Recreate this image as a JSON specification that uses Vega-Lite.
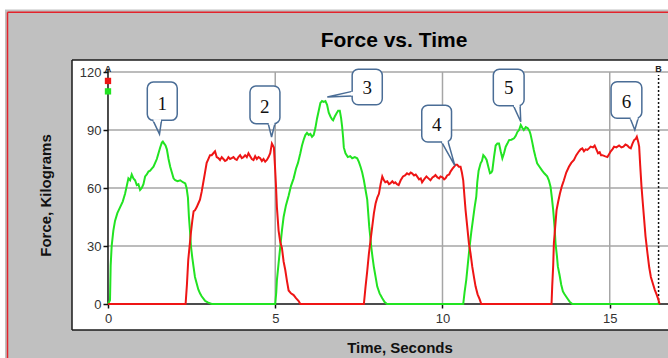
{
  "$schema": "https://vega.github.io/schema/vega-lite/v6.json",
  "width": 596,
  "height": 270,
  "autosize": {"type": "none"},
  "padding": {"left": 72, "top": 60, "right": 0, "bottom": 28},
  "background": "#c0c0c0",
  "config": {"view": {"stroke": null, "fill": "white"}, "font": "Liberation Sans"},
  "datasets": {
    "force": [
      {"s":"g","t":0,"v":0},{"s":"g","t":0.06,"v":2},{"s":"g","t":0.08,"v":20},{"s":"g","t":0.11,"v":30},{"s":"g","t":0.16,"v":38},{"s":"g","t":0.21,"v":43},{"s":"g","t":0.28,"v":47},{"s":"g","t":0.36,"v":50},{"s":"g","t":0.44,"v":53},{"s":"g","t":0.51,"v":57},{"s":"g","t":0.56,"v":61},{"s":"g","t":0.61,"v":65},{"s":"g","t":0.66,"v":64},{"s":"g","t":0.71,"v":67},{"s":"g","t":0.76,"v":65},{"s":"g","t":0.81,"v":64},{"s":"g","t":0.86,"v":61.5},{"s":"g","t":0.91,"v":62},{"s":"g","t":0.96,"v":59},{"s":"g","t":1.01,"v":60},{"s":"g","t":1.06,"v":62},{"s":"g","t":1.11,"v":66},{"s":"g","t":1.16,"v":67},{"s":"g","t":1.21,"v":68.5},{"s":"g","t":1.26,"v":69},{"s":"g","t":1.31,"v":70},{"s":"g","t":1.36,"v":71},{"s":"g","t":1.41,"v":73},{"s":"g","t":1.46,"v":75},{"s":"g","t":1.51,"v":78},{"s":"g","t":1.56,"v":81},{"s":"g","t":1.61,"v":83.5},{"s":"g","t":1.64,"v":84},{"s":"g","t":1.68,"v":83},{"s":"g","t":1.72,"v":82},{"s":"g","t":1.76,"v":80},{"s":"g","t":1.81,"v":75},{"s":"g","t":1.86,"v":71},{"s":"g","t":1.91,"v":68},{"s":"g","t":1.96,"v":65},{"s":"g","t":2.01,"v":64},{"s":"g","t":2.08,"v":63.5},{"s":"g","t":2.16,"v":64},{"s":"g","t":2.24,"v":63},{"s":"g","t":2.31,"v":62.4},{"s":"g","t":2.35,"v":60},{"s":"g","t":2.39,"v":55},{"s":"g","t":2.42,"v":45},{"s":"g","t":2.45,"v":38},{"s":"g","t":2.48,"v":30},{"s":"g","t":2.52,"v":24},{"s":"g","t":2.56,"v":19},{"s":"g","t":2.6,"v":14},{"s":"g","t":2.65,"v":10.7},{"s":"g","t":2.7,"v":7.5},{"s":"g","t":2.75,"v":5.5},{"s":"g","t":2.8,"v":4},{"s":"g","t":2.9,"v":1.7},{"s":"g","t":2.98,"v":0.8},{"s":"g","t":3.1,"v":0},{"s":"g","t":5.0,"v":0},{"s":"g","t":5.03,"v":6},{"s":"g","t":5.05,"v":12.4},{"s":"g","t":5.1,"v":21},{"s":"g","t":5.15,"v":29.6},{"s":"g","t":5.2,"v":38},{"s":"g","t":5.25,"v":45},{"s":"g","t":5.32,"v":51},{"s":"g","t":5.4,"v":56},{"s":"g","t":5.47,"v":61},{"s":"g","t":5.55,"v":65},{"s":"g","t":5.62,"v":70},{"s":"g","t":5.68,"v":73},{"s":"g","t":5.75,"v":78},{"s":"g","t":5.8,"v":82},{"s":"g","t":5.85,"v":85},{"s":"g","t":5.9,"v":87.4},{"s":"g","t":5.95,"v":88.5},{"s":"g","t":6.0,"v":87.5},{"s":"g","t":6.05,"v":88},{"s":"g","t":6.1,"v":86.5},{"s":"g","t":6.15,"v":87.4},{"s":"g","t":6.2,"v":91},{"s":"g","t":6.25,"v":96},{"s":"g","t":6.3,"v":100},{"s":"g","t":6.35,"v":104},{"s":"g","t":6.4,"v":105},{"s":"g","t":6.45,"v":104.6},{"s":"g","t":6.5,"v":105},{"s":"g","t":6.55,"v":103},{"s":"g","t":6.6,"v":99},{"s":"g","t":6.65,"v":97},{"s":"g","t":6.7,"v":95.5},{"s":"g","t":6.73,"v":95},{"s":"g","t":6.78,"v":97},{"s":"g","t":6.83,"v":98.6},{"s":"g","t":6.88,"v":100},{"s":"g","t":6.93,"v":100},{"s":"g","t":6.97,"v":96},{"s":"g","t":7.0,"v":91.7},{"s":"g","t":7.03,"v":86},{"s":"g","t":7.05,"v":81},{"s":"g","t":7.1,"v":78},{"s":"g","t":7.17,"v":76},{"s":"g","t":7.24,"v":76.5},{"s":"g","t":7.3,"v":75.4},{"s":"g","t":7.38,"v":76},{"s":"g","t":7.45,"v":75.4},{"s":"g","t":7.5,"v":73.5},{"s":"g","t":7.55,"v":71},{"s":"g","t":7.6,"v":68},{"s":"g","t":7.65,"v":64},{"s":"g","t":7.7,"v":59},{"s":"g","t":7.75,"v":54},{"s":"g","t":7.78,"v":47},{"s":"g","t":7.81,"v":40},{"s":"g","t":7.84,"v":35},{"s":"g","t":7.87,"v":29.6},{"s":"g","t":7.91,"v":24},{"s":"g","t":7.95,"v":19},{"s":"g","t":8.0,"v":14},{"s":"g","t":8.05,"v":9},{"s":"g","t":8.12,"v":5.5},{"s":"g","t":8.2,"v":3},{"s":"g","t":8.27,"v":1},{"s":"g","t":8.34,"v":0},{"s":"g","t":10.62,"v":0},{"s":"g","t":10.66,"v":6},{"s":"g","t":10.71,"v":12.4},{"s":"g","t":10.76,"v":21},{"s":"g","t":10.81,"v":29.6},{"s":"g","t":10.86,"v":37},{"s":"g","t":10.91,"v":43.5},{"s":"g","t":10.96,"v":50},{"s":"g","t":11.01,"v":55.5},{"s":"g","t":11.04,"v":63},{"s":"g","t":11.08,"v":69},{"s":"g","t":11.14,"v":72.8},{"s":"g","t":11.18,"v":74},{"s":"g","t":11.22,"v":77},{"s":"g","t":11.27,"v":76},{"s":"g","t":11.32,"v":74.5},{"s":"g","t":11.37,"v":71},{"s":"g","t":11.42,"v":67.6},{"s":"g","t":11.46,"v":68},{"s":"g","t":11.49,"v":69},{"s":"g","t":11.54,"v":76},{"s":"g","t":11.59,"v":82},{"s":"g","t":11.64,"v":83},{"s":"g","t":11.69,"v":83},{"s":"g","t":11.74,"v":79},{"s":"g","t":11.79,"v":75.4},{"s":"g","t":11.84,"v":78},{"s":"g","t":11.89,"v":81.4},{"s":"g","t":11.94,"v":83},{"s":"g","t":11.99,"v":84.8},{"s":"g","t":12.06,"v":85},{"s":"g","t":12.14,"v":85.7},{"s":"g","t":12.19,"v":87},{"s":"g","t":12.24,"v":89},{"s":"g","t":12.29,"v":90},{"s":"g","t":12.34,"v":92.6},{"s":"g","t":12.39,"v":91},{"s":"g","t":12.43,"v":90},{"s":"g","t":12.49,"v":91.5},{"s":"g","t":12.55,"v":90.9},{"s":"g","t":12.6,"v":89.5},{"s":"g","t":12.63,"v":88},{"s":"g","t":12.68,"v":84},{"s":"g","t":12.73,"v":79.7},{"s":"g","t":12.78,"v":76},{"s":"g","t":12.83,"v":72.8},{"s":"g","t":12.9,"v":71},{"s":"g","t":12.98,"v":69},{"s":"g","t":13.05,"v":67.5},{"s":"g","t":13.13,"v":66},{"s":"g","t":13.18,"v":64},{"s":"g","t":13.23,"v":60.7},{"s":"g","t":13.27,"v":55},{"s":"g","t":13.31,"v":48.6},{"s":"g","t":13.35,"v":40},{"s":"g","t":13.38,"v":31.4},{"s":"g","t":13.42,"v":25},{"s":"g","t":13.45,"v":19.3},{"s":"g","t":13.5,"v":15},{"s":"g","t":13.55,"v":10},{"s":"g","t":13.6,"v":6.5},{"s":"g","t":13.65,"v":5},{"s":"g","t":13.73,"v":3},{"s":"g","t":13.8,"v":1.2},{"s":"g","t":13.88,"v":0},{"s":"g","t":16.48,"v":0},
      {"s":"r","t":0,"v":0},{"s":"r","t":2.32,"v":0},{"s":"r","t":2.36,"v":10},{"s":"r","t":2.4,"v":23},{"s":"r","t":2.44,"v":30},{"s":"r","t":2.48,"v":37},{"s":"r","t":2.52,"v":43},{"s":"r","t":2.56,"v":48},{"s":"r","t":2.6,"v":48.5},{"s":"r","t":2.65,"v":50},{"s":"r","t":2.7,"v":52},{"s":"r","t":2.75,"v":54},{"s":"r","t":2.8,"v":58},{"s":"r","t":2.85,"v":63},{"s":"r","t":2.9,"v":68},{"s":"r","t":2.95,"v":73},{"s":"r","t":3.0,"v":75},{"s":"r","t":3.05,"v":77},{"s":"r","t":3.1,"v":77},{"s":"r","t":3.15,"v":78},{"s":"r","t":3.2,"v":79},{"s":"r","t":3.25,"v":76},{"s":"r","t":3.3,"v":75.5},{"s":"r","t":3.35,"v":74.5},{"s":"r","t":3.4,"v":76},{"s":"r","t":3.45,"v":75},{"s":"r","t":3.5,"v":74},{"s":"r","t":3.55,"v":74.5},{"s":"r","t":3.6,"v":76},{"s":"r","t":3.65,"v":75},{"s":"r","t":3.7,"v":75.5},{"s":"r","t":3.75,"v":76},{"s":"r","t":3.8,"v":75},{"s":"r","t":3.85,"v":74.5},{"s":"r","t":3.9,"v":76},{"s":"r","t":3.95,"v":77},{"s":"r","t":4.0,"v":75.5},{"s":"r","t":4.05,"v":76},{"s":"r","t":4.1,"v":77},{"s":"r","t":4.15,"v":76},{"s":"r","t":4.2,"v":78},{"s":"r","t":4.25,"v":76.5},{"s":"r","t":4.3,"v":75},{"s":"r","t":4.35,"v":74.5},{"s":"r","t":4.4,"v":76.5},{"s":"r","t":4.45,"v":75},{"s":"r","t":4.5,"v":76},{"s":"r","t":4.55,"v":75.4},{"s":"r","t":4.6,"v":74},{"s":"r","t":4.65,"v":75},{"s":"r","t":4.7,"v":73.6},{"s":"r","t":4.75,"v":74.5},{"s":"r","t":4.8,"v":76},{"s":"r","t":4.85,"v":78},{"s":"r","t":4.9,"v":83},{"s":"r","t":4.93,"v":82},{"s":"r","t":4.96,"v":81},{"s":"r","t":4.99,"v":72},{"s":"r","t":5.02,"v":62},{"s":"r","t":5.05,"v":50},{"s":"r","t":5.1,"v":38},{"s":"r","t":5.15,"v":32},{"s":"r","t":5.2,"v":29},{"s":"r","t":5.25,"v":22},{"s":"r","t":5.3,"v":17.6},{"s":"r","t":5.35,"v":12},{"s":"r","t":5.4,"v":7},{"s":"r","t":5.47,"v":5.5},{"s":"r","t":5.55,"v":4.6},{"s":"r","t":5.62,"v":3},{"s":"r","t":5.7,"v":1.5},{"s":"r","t":5.75,"v":0},{"s":"r","t":7.65,"v":0},{"s":"r","t":7.7,"v":9},{"s":"r","t":7.75,"v":17},{"s":"r","t":7.8,"v":26},{"s":"r","t":7.85,"v":33},{"s":"r","t":7.9,"v":40},{"s":"r","t":7.95,"v":47},{"s":"r","t":8.0,"v":52},{"s":"r","t":8.05,"v":55},{"s":"r","t":8.1,"v":57},{"s":"r","t":8.15,"v":62},{"s":"r","t":8.2,"v":66},{"s":"r","t":8.25,"v":64},{"s":"r","t":8.29,"v":63},{"s":"r","t":8.35,"v":63.5},{"s":"r","t":8.4,"v":62},{"s":"r","t":8.44,"v":62.4},{"s":"r","t":8.5,"v":63.5},{"s":"r","t":8.55,"v":62.5},{"s":"r","t":8.59,"v":63},{"s":"r","t":8.64,"v":62},{"s":"r","t":8.69,"v":61.5},{"s":"r","t":8.75,"v":64},{"s":"r","t":8.82,"v":66},{"s":"r","t":8.88,"v":66.5},{"s":"r","t":8.94,"v":67.6},{"s":"r","t":9.0,"v":67},{"s":"r","t":9.05,"v":68},{"s":"r","t":9.09,"v":67.6},{"s":"r","t":9.15,"v":66.5},{"s":"r","t":9.2,"v":67},{"s":"r","t":9.24,"v":66},{"s":"r","t":9.3,"v":64.5},{"s":"r","t":9.35,"v":65},{"s":"r","t":9.39,"v":63},{"s":"r","t":9.45,"v":64.5},{"s":"r","t":9.52,"v":66},{"s":"r","t":9.58,"v":65},{"s":"r","t":9.64,"v":64},{"s":"r","t":9.7,"v":65.5},{"s":"r","t":9.75,"v":66},{"s":"r","t":9.79,"v":66.7},{"s":"r","t":9.85,"v":65.5},{"s":"r","t":9.9,"v":65},{"s":"r","t":9.94,"v":66},{"s":"r","t":10.0,"v":65.5},{"s":"r","t":10.05,"v":64.5},{"s":"r","t":10.09,"v":65},{"s":"r","t":10.14,"v":66.5},{"s":"r","t":10.2,"v":67},{"s":"r","t":10.24,"v":68.5},{"s":"r","t":10.3,"v":70},{"s":"r","t":10.35,"v":71},{"s":"r","t":10.39,"v":72},{"s":"r","t":10.44,"v":72},{"s":"r","t":10.49,"v":71},{"s":"r","t":10.54,"v":71},{"s":"r","t":10.58,"v":68},{"s":"r","t":10.62,"v":64},{"s":"r","t":10.66,"v":55},{"s":"r","t":10.69,"v":48.6},{"s":"r","t":10.74,"v":40},{"s":"r","t":10.79,"v":31.4},{"s":"r","t":10.84,"v":26},{"s":"r","t":10.89,"v":19.3},{"s":"r","t":10.94,"v":14},{"s":"r","t":10.99,"v":9},{"s":"r","t":11.05,"v":5},{"s":"r","t":11.11,"v":2.5},{"s":"r","t":11.16,"v":0},{"s":"r","t":13.26,"v":0},{"s":"r","t":13.28,"v":9},{"s":"r","t":13.31,"v":20},{"s":"r","t":13.33,"v":31.4},{"s":"r","t":13.37,"v":40},{"s":"r","t":13.41,"v":48.6},{"s":"r","t":13.46,"v":53},{"s":"r","t":13.51,"v":57},{"s":"r","t":13.57,"v":61},{"s":"r","t":13.63,"v":64},{"s":"r","t":13.7,"v":68},{"s":"r","t":13.78,"v":71},{"s":"r","t":13.85,"v":73},{"s":"r","t":13.93,"v":74.5},{"s":"r","t":14.0,"v":77},{"s":"r","t":14.08,"v":79},{"s":"r","t":14.13,"v":80},{"s":"r","t":14.18,"v":80.5},{"s":"r","t":14.23,"v":79},{"s":"r","t":14.28,"v":80},{"s":"r","t":14.33,"v":79.7},{"s":"r","t":14.38,"v":80.5},{"s":"r","t":14.43,"v":81.4},{"s":"r","t":14.5,"v":81},{"s":"r","t":14.55,"v":82},{"s":"r","t":14.6,"v":80},{"s":"r","t":14.65,"v":78},{"s":"r","t":14.7,"v":78.5},{"s":"r","t":14.74,"v":77},{"s":"r","t":14.78,"v":77},{"s":"r","t":14.85,"v":76.5},{"s":"r","t":14.93,"v":76},{"s":"r","t":14.98,"v":77.5},{"s":"r","t":15.03,"v":79},{"s":"r","t":15.08,"v":80},{"s":"r","t":15.13,"v":81.4},{"s":"r","t":15.2,"v":81},{"s":"r","t":15.28,"v":82},{"s":"r","t":15.35,"v":81},{"s":"r","t":15.41,"v":81.4},{"s":"r","t":15.47,"v":82.5},{"s":"r","t":15.53,"v":82},{"s":"r","t":15.58,"v":81},{"s":"r","t":15.63,"v":80.5},{"s":"r","t":15.68,"v":83},{"s":"r","t":15.73,"v":84.8},{"s":"r","t":15.78,"v":85.5},{"s":"r","t":15.81,"v":86.5},{"s":"r","t":15.85,"v":84},{"s":"r","t":15.88,"v":81.4},{"s":"r","t":15.91,"v":72},{"s":"r","t":15.95,"v":60.7},{"s":"r","t":15.99,"v":52},{"s":"r","t":16.03,"v":43.5},{"s":"r","t":16.07,"v":35},{"s":"r","t":16.13,"v":26},{"s":"r","t":16.18,"v":19},{"s":"r","t":16.23,"v":14},{"s":"r","t":16.3,"v":10},{"s":"r","t":16.35,"v":7.2},{"s":"r","t":16.4,"v":5},{"s":"r","t":16.45,"v":2.5},{"s":"r","t":16.49,"v":0}
    ],
    "strips": [
      {"t0":-4,"t1":18,"v0":152.35,"v1":160},
      {"t0":-4,"t1":-3.079,"v0":-40,"v1":160}
    ],
    "borders": [
      {"c":"red","t0":-3.004,"t1":-3.004,"v0":-40,"v1":150.9},
      {"c":"red","t0":-3.004,"t1":18,"v0":150.9,"v1":150.9},
      {"c":"black","t0":-1.076,"t1":-1.076,"v0":-13.45,"v1":126.23},
      {"c":"black","t0":-1.076,"t1":18,"v0":126.23,"v1":126.23},
      {"c":"black","t0":-1.076,"t1":18,"v0":-13.45,"v1":-13.45}
    ],
    "titles": [{"lab":"Force vs. Time","t":8.55,"v":133.1}],
    "hgrid": [{"v":30,"t0":0,"t1":16.75},{"v":60,"t0":0,"t1":16.75},{"v":90,"t0":0,"t1":16.75},{"v":120,"t0":0,"t1":16.75}],
    "vgrid": [{"t":5,"v0":0,"v1":120},{"t":10,"v0":0,"v1":120},{"t":15,"v0":0,"v1":120}],
    "axisrules": [{"t0":0,"t1":16.75,"v0":0,"v1":0},{"t0":0,"t1":0,"v0":0,"v1":121}],
    "cursorline": [{"t0":16.46,"t1":16.46,"v0":0,"v1":118.5}],
    "cursormarks": [{"s":"r","t":0,"v":115.4},{"s":"g","t":0,"v":110}],
    "cursorlabels": [{"lab":"A","t":0,"v":121.8},{"lab":"B","t":16.46,"v":121.8}],
    "tails": [
      {"id":1,"o":0,"t":1.345,"v":95.0},{"id":1,"o":1,"t":1.54,"v":87.9},{"id":1,"o":2,"t":1.6,"v":95.0},
      {"id":2,"o":0,"t":4.79,"v":93.3},{"id":2,"o":1,"t":4.89,"v":86.4},{"id":2,"o":2,"t":4.99,"v":93.3},
      {"id":3,"o":0,"t":7.3,"v":110.0},{"id":3,"o":1,"t":6.556,"v":107.1},{"id":3,"o":2,"t":7.3,"v":107.6},
      {"id":4,"o":0,"t":9.975,"v":83.8},{"id":4,"o":1,"t":10.37,"v":71.6},{"id":4,"o":2,"t":10.17,"v":83.8},
      {"id":5,"o":0,"t":12.12,"v":102.6},{"id":5,"o":1,"t":12.34,"v":94.3},{"id":5,"o":2,"t":12.32,"v":102.6},
      {"id":6,"o":0,"t":15.61,"v":96.1},{"id":6,"o":1,"t":15.75,"v":90.0},{"id":6,"o":2,"t":15.85,"v":96.1}
    ],
    "boxes": [
      {"lab":"1","t0":1.175,"t1":2.07,"v0":95.0,"v1":114.8,"tc":1.62,"vc":103.5},
      {"lab":"2","t0":4.245,"t1":5.14,"v0":93.3,"v1":112.8,"tc":4.69,"vc":102},
      {"lab":"3","t0":7.3,"t1":8.2,"v0":103.1,"v1":121.4,"tc":7.75,"vc":111.5},
      {"lab":"4","t0":9.38,"t1":10.27,"v0":83.8,"v1":102.8,"tc":9.83,"vc":92.5},
      {"lab":"5","t0":11.52,"t1":12.44,"v0":102.6,"v1":121.4,"tc":11.98,"vc":111.5},
      {"lab":"6","t0":15.04,"t1":15.96,"v0":96.1,"v1":115.0,"tc":15.5,"vc":104.5}
    ],
    "gaps": [
      {"t0":1.36,"t1":1.585,"v0":95.0,"v1":95.0},
      {"t0":4.805,"t1":4.975,"v0":93.3,"v1":93.3},
      {"t0":7.3,"t1":7.3,"v0":109.8,"v1":107.8},
      {"t0":9.99,"t1":10.155,"v0":83.8,"v1":83.8},
      {"t0":12.135,"t1":12.305,"v0":102.6,"v1":102.6},
      {"t0":15.625,"t1":15.835,"v0":96.1,"v1":96.1}
    ]
  },
  "layer": [
    {
      "data": {"name": "hgrid"},
      "mark": {"type": "rule", "clip": false, "color": "#a6a6a6", "strokeWidth": 1.5},
      "encoding": {
        "x": {"field": "t0", "type": "quantitative", "title": "Time, Seconds", "scale": {"domain": [-1.076, 16.742], "nice": false, "zero": false},
          "axis": {"values": [0, 5, 10, 15], "offset": -26, "domain": false, "grid": false, "tickColor": "#111", "tickSize": 4, "tickWidth": 1.5, "labelFontSize": 13, "labelColor": "#333", "labelPadding": 4, "labelFont": "Liberation Sans", "labelFlush": false, "labelOverlap": false, "titleFontSize": 15, "titleFontWeight": "bold", "titleFont": "Liberation Sans", "titleColor": "#111", "titlePadding": 15, "titleX": 327.5}},
        "x2": {"field": "t1"},
        "y": {"field": "v", "type": "quantitative", "title": "Force, Kilograms", "scale": {"domain": [-13.45, 126.23], "nice": false, "zero": false},
          "axis": {"values": [0, 30, 60, 90, 120], "offset": -36, "domain": false, "grid": false, "tickColor": "#111", "tickSize": 5, "tickWidth": 1.5, "labelFontSize": 13, "labelColor": "#333", "labelPadding": 2, "labelFont": "Liberation Sans", "labelFlush": false, "labelOverlap": false, "titleFontSize": 15, "titleFontWeight": "bold", "titleFont": "Liberation Sans", "titleColor": "#111", "titlePadding": 26}}
      }
    },
    {
      "data": {"name": "strips"},
      "mark": {"type": "rect", "clip": false, "fill": "white", "strokeWidth": 0},
      "encoding": {
        "x": {"field": "t0", "type": "quantitative", "title": "Time, Seconds"},
        "x2": {"field": "t1"},
        "y": {"field": "v0", "type": "quantitative", "title": "Force, Kilograms"},
        "y2": {"field": "v1"}
      }
    },
    {
      "data": {"name": "borders"},
      "mark": {"type": "rule", "clip": false, "strokeWidth": 1.5},
      "encoding": {
        "x": {"field": "t0", "type": "quantitative", "title": "Time, Seconds"},
        "x2": {"field": "t1"},
        "y": {"field": "v0", "type": "quantitative", "title": "Force, Kilograms"},
        "y2": {"field": "v1"},
        "stroke": {"field": "c", "type": "nominal", "scale": {"domain": ["red", "black"], "range": ["#e3232b", "#1a1a1a"]}, "legend": null}
      }
    },
    {
      "data": {"name": "titles"},
      "mark": {"type": "text", "clip": false, "font": "Liberation Sans", "fontSize": 21, "fontWeight": "bold", "color": "#000", "align": "center", "baseline": "alphabetic"},
      "encoding": {
        "x": {"field": "t", "type": "quantitative", "title": "Time, Seconds"},
        "y": {"field": "v", "type": "quantitative", "title": "Force, Kilograms"},
        "text": {"field": "lab"}
      }
    },
    {
      "data": {"name": "vgrid"},
      "mark": {"type": "rule", "clip": false, "color": "#a6a6a6", "strokeWidth": 1.5},
      "encoding": {
        "x": {"field": "t", "type": "quantitative", "title": "Time, Seconds"},
        "y": {"field": "v0", "type": "quantitative", "title": "Force, Kilograms"},
        "y2": {"field": "v1"}
      }
    },
    {
      "data": {"name": "axisrules"},
      "mark": {"type": "rule", "clip": false, "color": "#111111", "strokeWidth": 1.5},
      "encoding": {
        "x": {"field": "t0", "type": "quantitative", "title": "Time, Seconds"},
        "x2": {"field": "t1"},
        "y": {"field": "v0", "type": "quantitative", "title": "Force, Kilograms"},
        "y2": {"field": "v1"}
      }
    },
    {
      "data": {"name": "cursorline"},
      "mark": {"type": "rule", "clip": false, "color": "#111111", "strokeWidth": 1.5, "strokeDash": [2, 2]},
      "encoding": {
        "x": {"field": "t0", "type": "quantitative", "title": "Time, Seconds"},
        "y": {"field": "v0", "type": "quantitative", "title": "Force, Kilograms"},
        "y2": {"field": "v1"}
      }
    },
    {
      "data": {"name": "force"},
      "mark": {"type": "line", "clip": false, "strokeWidth": 2},
      "encoding": {
        "x": {"field": "t", "type": "quantitative", "title": "Time, Seconds"},
        "y": {"field": "v", "type": "quantitative", "title": "Force, Kilograms"},
        "color": {"field": "s", "type": "nominal", "scale": {"domain": ["g", "r"], "range": ["#22e322", "#ee1515"]}, "legend": null},
        "detail": {"field": "s"}
      }
    },
    {
      "data": {"name": "cursormarks"},
      "mark": {"type": "point", "shape": "square", "filled": true, "size": 40, "opacity": 1, "clip": false},
      "encoding": {
        "x": {"field": "t", "type": "quantitative", "title": "Time, Seconds"},
        "y": {"field": "v", "type": "quantitative", "title": "Force, Kilograms"},
        "color": {"field": "s", "type": "nominal", "legend": null}
      }
    },
    {
      "data": {"name": "cursorlabels"},
      "mark": {"type": "text", "clip": false, "fontSize": 9, "fontWeight": "bold", "color": "#222", "baseline": "middle", "align": "center"},
      "encoding": {
        "x": {"field": "t", "type": "quantitative", "title": "Time, Seconds"},
        "y": {"field": "v", "type": "quantitative", "title": "Force, Kilograms"},
        "text": {"field": "lab"}
      }
    },
    {
      "data": {"name": "tails"},
      "mark": {"type": "line", "clip": false, "color": "#4a6d96", "strokeWidth": 1.5},
      "encoding": {
        "x": {"field": "t", "type": "quantitative", "title": "Time, Seconds"},
        "y": {"field": "v", "type": "quantitative", "title": "Force, Kilograms"},
        "detail": {"field": "id"},
        "order": {"field": "o"}
      }
    },
    {
      "data": {"name": "boxes"},
      "mark": {"type": "rect", "clip": false, "fill": "white", "stroke": "#4a6d96", "strokeWidth": 1.5, "cornerRadius": 6},
      "encoding": {
        "x": {"field": "t0", "type": "quantitative", "title": "Time, Seconds"},
        "x2": {"field": "t1"},
        "y": {"field": "v0", "type": "quantitative", "title": "Force, Kilograms"},
        "y2": {"field": "v1"}
      }
    },
    {
      "data": {"name": "gaps"},
      "mark": {"type": "rule", "clip": false, "color": "white", "strokeWidth": 2.5},
      "encoding": {
        "x": {"field": "t0", "type": "quantitative", "title": "Time, Seconds"},
        "x2": {"field": "t1"},
        "y": {"field": "v0", "type": "quantitative", "title": "Force, Kilograms"},
        "y2": {"field": "v1"}
      }
    },
    {
      "data": {"name": "boxes"},
      "mark": {"type": "text", "clip": false, "font": "Liberation Serif", "fontSize": 19, "color": "#111", "baseline": "middle", "align": "center"},
      "encoding": {
        "x": {"field": "tc", "type": "quantitative", "title": "Time, Seconds"},
        "y": {"field": "vc", "type": "quantitative", "title": "Force, Kilograms"},
        "text": {"field": "lab"}
      }
    }
  ]
}
